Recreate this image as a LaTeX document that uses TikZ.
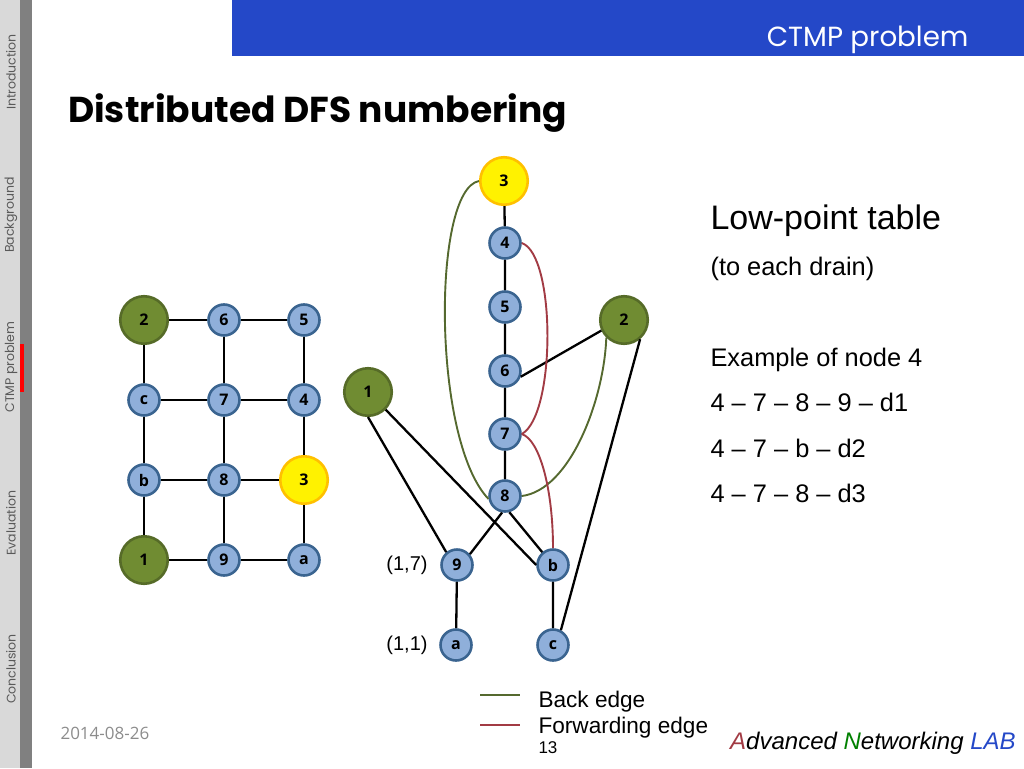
\documentclass[tikz,border=0pt]{standalone}
\usepackage{fontspec}
\usepackage{xcolor}
\setmainfont{Liberation Sans}
\newfontfamily\titlefont{Poppins}
\newfontfamily\labelfont{Open Sans}
\definecolor{sidelight}{HTML}{D9D9D9}
\definecolor{sidedark}{HTML}{808080}
\definecolor{barblue}{HTML}{2448C8}
\definecolor{nodeblue}{HTML}{8FAFDA}
\definecolor{nodeline}{HTML}{3A6490}
\definecolor{srcgreen}{HTML}{708C32}
\definecolor{srcline}{HTML}{566B28}
\definecolor{drnline}{HTML}{FFC000}
\definecolor{backedge}{HTML}{55692F}
\definecolor{fwdedge}{HTML}{A23B44}
\begin{document}
\begin{tikzpicture}[x=1pt,y=-1pt,
vtx/.style={circle,draw=nodeline,fill=nodeblue,line width=2.6pt,minimum size=31pt,inner sep=0pt,font=\labelfont\fontsize{16}{16}\selectfont\bfseries},
src/.style={vtx,draw=srcline,fill=srcgreen,minimum size=47.5pt},
drn/.style={vtx,draw=drnline,fill=yellow,minimum size=47.5pt},
edg/.style={line width=2.3pt},
bck/.style={line width=1.9pt,draw=backedge},
fwd/.style={line width=1.9pt,draw=fwdedge},
side/.style={rotate=90,text=black!65,font=\titlefont\fontsize{12.5}{12.5}\selectfont},
txt/.style={anchor=base west,font=\fontsize{25.4}{25.4}\selectfont}]
\useasboundingbox (0,0) rectangle (1024,768);
% side bar and top bar
\fill[sidelight](0,0) rectangle (20,768);
\fill[sidedark](20,0) rectangle (32,768);
\fill[red](20,344) rectangle (24,392);
\fill[barblue](232,0) rectangle (1024,56);
\node[side](sIntro) at (11,72){Introduction};
\node[side](sBack) at (11,215){Background};
\node[side](sCtmp) at (11,367){CTMP problem};
\node[side](sEval) at (11,523){Evaluation};
\node[side](sConc) at (11,669){Conclusion};
\node[anchor=base east,text=white,font=\titlefont\fontsize{27.7}{28}\selectfont](head) at (972,47){CTMP problem};
\node[anchor=base west,inner sep=0pt,font=\titlefont\fontsize{36}{37}\selectfont\bfseries](title) at (68,122){Distributed DFS numbering};
% grid
\node[src](g2) at (144,320){2};
\node[vtx](g6) at (224,320){6};
\node[vtx](g5) at (304,320){5};
\node[vtx](gc) at (144,400){c};
\node[vtx](g7) at (224,400){7};
\node[vtx](g4) at (304,400){4};
\node[vtx](gb) at (144,480){b};
\node[vtx](g8) at (224,480){8};
\node[drn](g3) at (304,480){3};
\node[src](g1) at (144,560){1};
\node[vtx](g9) at (224,560){9};
\node[vtx](ga) at (304,560){a};
\draw[edg](g2)--(g6) (g6)--(g5)
(gc)--(g7) (g7)--(g4)
(gb)--(g8) (g8)--(g3)
(g1)--(g9) (g9)--(ga)
(g2)--(gc) (gc)--(gb) (gb)--(g1)
(g6)--(g7) (g7)--(g8) (g8)--(g9)
(g5)--(g4) (g4)--(g3) (g3)--(ga);
% tree
\node[drn](t3) at (504,181){3};
\node[vtx](t4) at (505,243){4};
\node[vtx](t5) at (505,307){5};
\node[vtx](t6) at (505,371){6};
\node[vtx](t7) at (505,434){7};
\node[vtx](t8) at (505,496){8};
\node[vtx](t9) at (457,565){9};
\node[vtx](tb) at (553,565){b};
\node[vtx](ta) at (456,645){a};
\node[vtx](tc) at (553,645){c};
\node[src](t1) at (368,392){1};
\node[src](t2) at (624,320){2};
\draw[edg](t3.-89)--(t4) (t4)--(t5) (t5)--(t6) (t6)--(t7) (t7)--(t8)
(t6.-20)--(t2.-155)
(t2.-50)--(tc.62)
(t1.-90)--(t9.130)
(t1.-45)--(tb.180)
(t8.-100)--(t9.40)
(t8.-75)--(tb.130)
(t9)--(ta) (tb)--(tc);
\draw[bck](t3.180) .. controls (432,190) and (432,440) .. (t8.190);
\draw[bck](t2.-135) .. controls (604,400) and (570,490) .. (t8.0);
\draw[fwd](t4.0) .. controls (556,255) and (556,415) .. (t7.0);
\draw[fwd](t7.0) .. controls (540,440) and (553,490) .. (tb.90);
% side labels
\node[font=\fontsize{20}{20}\selectfont](l9) at (407,565){(1,7)};
\node[font=\fontsize{20}{20}\selectfont](la) at (407,645){(1,1)};
% text block
\node[txt,font=\fontsize{34}{34}\selectfont](low) at (707,229){Low-point table};
\node[txt](drain) at (707,275){(to each drain)};
\node[txt](ex) at (707,366){Example of node 4};
\node[txt](p1) at (707,411){4 -- 7 -- 8 -- 9 -- d1};
\node[txt](p2) at (707,457){4 -- 7 -- b -- d2};
\node[txt](p3) at (707,502){4 -- 7 -- 8 -- d3};
% legend
\coordinate(bk1) at (480,695);
\coordinate(bk2) at (520,695);
\coordinate(fw1) at (480,725);
\coordinate(fw2) at (520,725);
\draw[bck](bk1)--(bk2);
\draw[fwd](fw1)--(fw2);
\node[txt,font=\fontsize{22.6}{22.6}\selectfont](lb) at (535,707){Back edge};
\node[txt,font=\fontsize{22.6}{22.6}\selectfont](lf) at (535,733){Forwarding edge};
\node[txt,font=\fontsize{17}{17}\selectfont](num) at (535,753){13};
\node[anchor=base west,text=black!45,font=\labelfont\fontsize{17}{17}\selectfont](date) at (57,739){2014-08-26};
% logo
\node[anchor=base west,inner sep=0pt,font=\itshape\fontsize{24}{24}\selectfont](logo) at (730,749){\textcolor{fwdedge}{A}dvanced \textcolor{green!50!black}{N}etworking \textcolor{barblue}{LAB}};
\end{tikzpicture}
\end{document}
